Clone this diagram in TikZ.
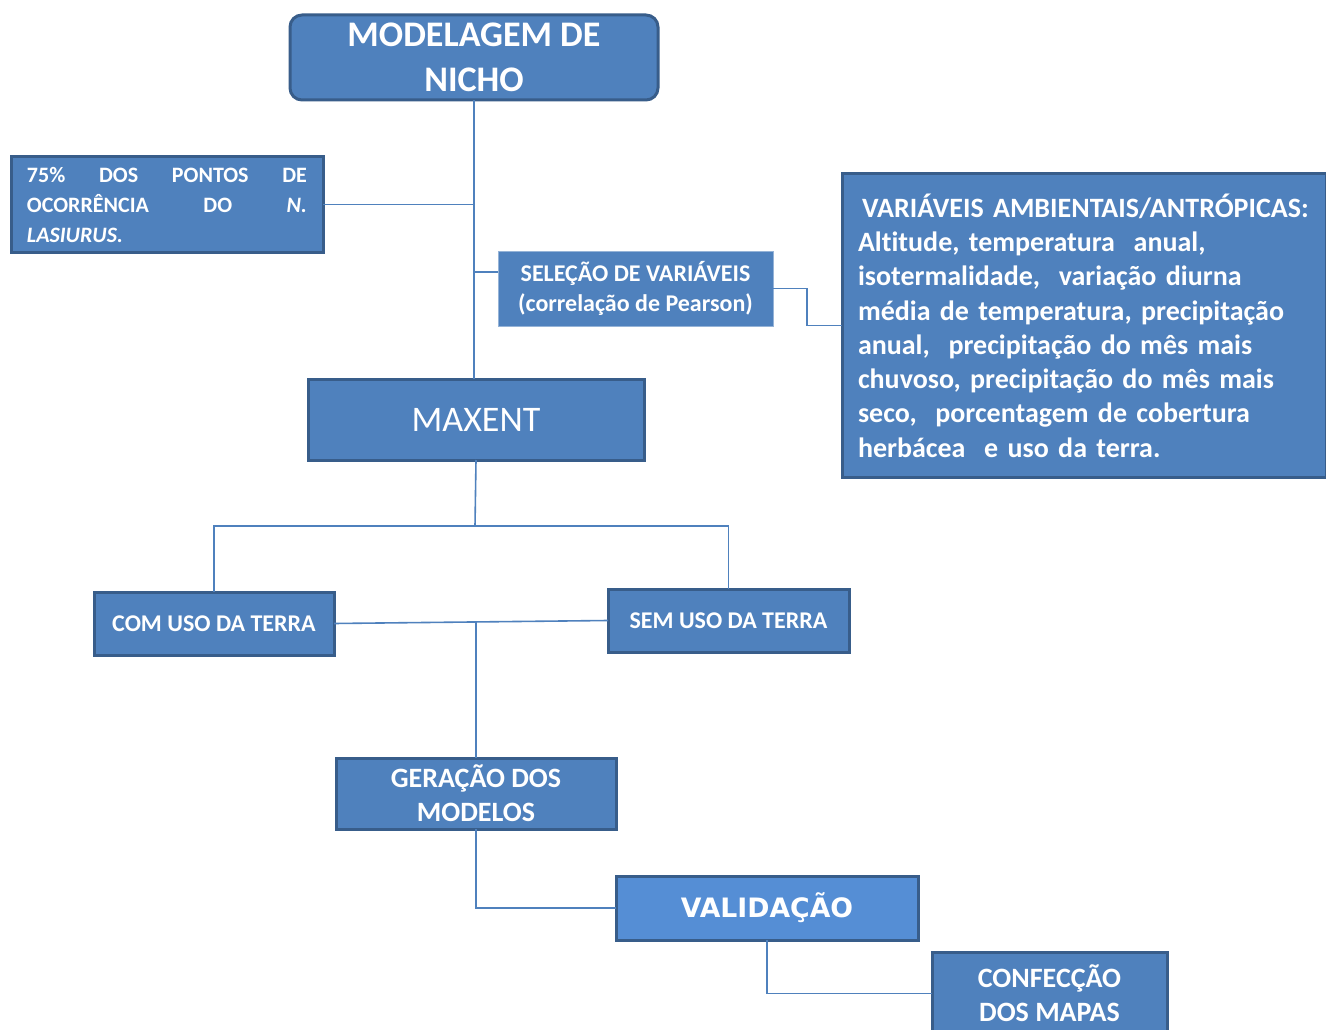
\documentclass[tikz,border=0pt]{standalone}
\usepackage{fontspec}
\setmainfont{Carlito}[Ligatures=NoCommon]
\newfontfamily\dejab{DejaVu Sans}
\definecolor{mainblue}{HTML}{4F81BD}
\definecolor{darkblue}{HTML}{385D8A}
\definecolor{lightblue}{HTML}{558ED5}
\tikzset{
  darkbox/.style={draw=darkblue, fill=mainblue, line width=3pt, text=white, inner sep=0pt, outer sep=0pt, align=center},
  thinbox/.style={draw=mainblue!60!white, fill=mainblue, line width=0.8pt, text=white, inner sep=0pt, outer sep=0pt, align=center},
  conn/.style={draw=mainblue, line width=1.6pt}
}
\begin{document}
\begin{tikzpicture}[x=1pt,y=-1pt]
\useasboundingbox (0,0) rectangle (1326,1030);
\fill[white] (0,0) rectangle (1326,1030);

\node[darkbox, rounded corners=12pt, minimum width=368pt, minimum height=85pt,
  font={\fontsize{36}{45}\selectfont\bfseries}] (nicho) at (474,57.5)
  {MODELAGEM DE\\NICHO};

\node[darkbox, minimum width=312pt, minimum height=95pt, text width=280pt, align=left,
  font={\fontsize{22}{30}\selectfont\bfseries}] (pontos) at (167,204.5)
  {\leavevmode\hbox to 280pt{75\%\hfill DOS\hfill PONTOS\hfill DE}\\
   \leavevmode\hbox to 280pt{OCORRÊNCIA\hfill DO\hfill \textit{N.}}\\
   \textit{LASIURUS.}};

\node[thinbox, minimum width=275pt, minimum height=75pt,
  font={\fontsize{24}{30}\selectfont\bfseries}] (sel) at (635.5,288.5)
  {SELEÇÃO DE VARIÁVEIS\\(correlação de Pearson)};

\node[darkbox, minimum width=484pt, minimum height=303pt, text width=452pt, align=left, inner xsep=16pt,
  font={\fontsize{28}{34.3}\selectfont\bfseries}] (var) at (1084,325.5)
  {\hspace*{4pt}VARIÁVEIS AMBIENTAIS/ANTRÓPICAS:\\
   Altitude, temperatura\ \ anual,\\
   isotermalidade,\ \ variação diurna\\
   média de temperatura, precipitação\\
   anual,\ \ precipitação do mês mais\\
   chuvoso, precipitação do mês mais\\
   seco,\ \ porcentagem de cobertura\\
   herbácea\ \ e uso da terra.};

\node[darkbox, minimum width=336pt, minimum height=81pt,
  font={\fontsize{36}{44}\selectfont}] (maxent) at (476,419.5)
  {MAXENT};

\node[darkbox, minimum width=240pt, minimum height=63pt,
  font={\fontsize{24}{30}\selectfont\bfseries}] (com) at (214,623.5)
  {COM USO DA TERRA};

\node[darkbox, minimum width=241pt, minimum height=63pt,
  font={\fontsize{24}{30}\selectfont\bfseries}] (sem) at (728.5,620.5)
  {SEM USO DA TERRA};

\node[darkbox, minimum width=280pt, minimum height=71pt,
  font={\fontsize{28}{34}\selectfont\bfseries}] (gera) at (476,793.5)
  {GERAÇÃO DOS\\MODELOS};

\node[darkbox, fill=lightblue, minimum width=302pt, minimum height=64pt,
  font={\fontsize{26.7}{32}\selectfont\dejab\bfseries}] (valid) at (767,908)
  {VALIDAÇÃO};

\node[darkbox, minimum width=235pt, minimum height=83pt,
  font={\fontsize{28}{34}\selectfont\bfseries}] (conf) at (1049.5,993.5)
  {CONFECÇÃO\\DOS MAPAS};

\coordinate (j1) at (475,526);
\coordinate (j2) at (476,622);

\draw[conn] (nicho.south) -- (nicho.south |- maxent.north);
\draw[conn] (pontos.east) -- (pontos.east -| nicho.south);
\draw[conn] ([yshift=16.5pt]sel.west) -- ([yshift=16.5pt]sel.west -| nicho.south);
\draw[conn] (sel.east) -- ++(34,0) |- (var.west);
\draw[conn] (maxent.south) -- (j1);
\draw[conn] (com.north) |- (j1) -| (sem.north);
\draw[conn] (com.east) -- (sem.west);
\draw[conn] (j2) -- (gera.north);
\draw[conn] (gera.south) |- (valid.west);
\draw[conn] (valid.south) |- (conf.west);
\end{tikzpicture}
\end{document}
